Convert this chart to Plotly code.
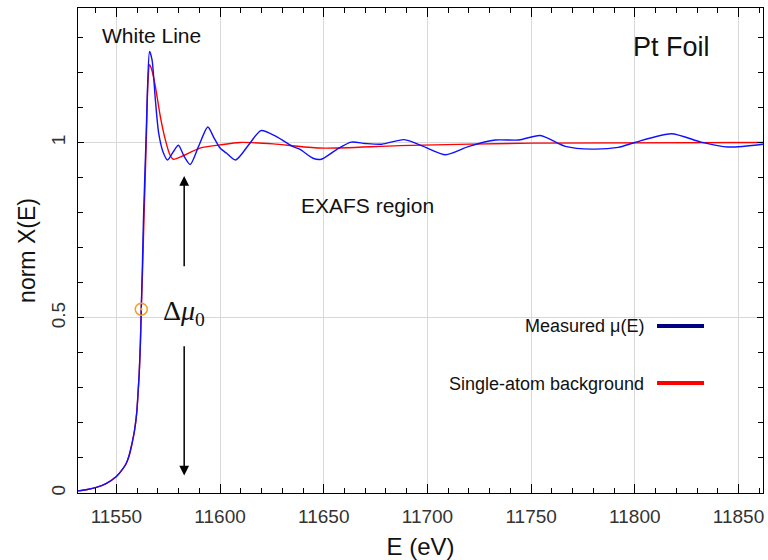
import plotly.graph_objects as go

# Measured mu(E) (normalized)
energy_measured = [11531.5, 11536, 11540.3, 11545, 11550, 11553, 11554.8, 11556.2, 11557.2,
                   11558.2, 11558.8, 11559.8, 11560.5, 11561.0, 11561.6, 11562.0, 11562.5,
                   11563.1, 11564.4, 11565.1, 11566.0, 11567.2, 11568.8, 11570.4, 11572.7,
                   11574.7, 11577.5, 11579.9, 11582.7, 11585.6, 11589.6, 11594.1, 11597,
                   11600, 11603.2, 11607.5, 11614.4, 11619.7, 11627.2, 11635.2, 11638.4,
                   11644.8, 11648.8, 11656, 11663.2, 11670, 11678, 11688.8, 11698, 11708.8,
                   11720, 11732.8, 11744, 11754.4, 11766.5, 11779.2, 11792, 11800, 11817.6,
                   11832, 11844.8, 11861.8]
norm_measured = [0.006, 0.010, 0.016, 0.027, 0.047, 0.068, 0.085, 0.108, 0.132,
                 0.160, 0.180, 0.228, 0.290, 0.340, 0.430, 0.525, 0.637,
                 0.789, 1.029, 1.170, 1.261, 1.237, 1.123, 1.028, 0.971,
                 0.951, 0.975, 0.993, 0.961, 0.938, 0.989, 1.045, 1.015,
                 0.985, 0.970, 0.951, 0.999, 1.035, 1.018, 0.989, 0.982,
                 0.956, 0.953, 0.980, 1.002, 0.998, 0.996, 1.009, 0.990, 0.966,
                 0.990, 1.008, 1.008, 1.021, 0.990, 0.982, 0.987, 1.001, 1.026,
                 1.002, 0.988, 0.996]

# Single-atom background
energy_background = [11531.5, 11536, 11540.3, 11545, 11550, 11553, 11554.8, 11556.2, 11557.2,
                     11558.2, 11558.8, 11559.8, 11560.5, 11561.0, 11561.6, 11562.0, 11562.6,
                     11563.3, 11564.4, 11565.2, 11566.0, 11567.0, 11568.8, 11571.2, 11573.6,
                     11575.8, 11577.5, 11581, 11590.4, 11600, 11609.6, 11625.6, 11648,
                     11686.4, 11750.2, 11861.8]
norm_background = [0.006, 0.010, 0.016, 0.027, 0.047, 0.068, 0.085, 0.108, 0.132,
                   0.160, 0.180, 0.228, 0.290, 0.340, 0.430, 0.525, 0.630,
                   0.780, 1.000, 1.170, 1.223, 1.210, 1.161, 1.075, 1.009,
                   0.966, 0.953, 0.960, 0.985, 0.994, 1.001, 0.997, 0.985,
                   0.992, 0.999, 1.001]

# Edge point (E0, half step)
edge_energy = [11562.0]
edge_norm = [0.525]

x_tick_vals = [11550, 11600, 11650, 11700, 11750, 11800, 11850]
y_tick_vals = [0, 0.5, 1]

X_RANGE = [11531.5, 11861.8]
Y_RANGE = [0, 1.385]

FONT = "Liberation Sans, Arial, sans-serif"

fig = go.Figure()
fig.add_trace(go.Scatter(x=energy_background, y=norm_background, mode="lines",
                         line=dict(color="#ff0000", width=1.4, shape="spline", smoothing=0.7),
                         name="Single-atom background", showlegend=False))
fig.add_trace(go.Scatter(x=energy_measured, y=norm_measured, mode="lines",
                         line=dict(color="#1010ff", width=1.4, shape="spline", smoothing=0.7),
                         name="Measured μ(E)", showlegend=False))
fig.add_trace(go.Scatter(x=edge_energy, y=edge_norm, mode="markers",
                         marker=dict(symbol="circle-open-dot", size=12, color="#f0a020",
                                     line=dict(width=1.5, color="#f0a020")),
                         showlegend=False))
# empty trace on the mirror axes so they get drawn
fig.add_trace(go.Scatter(x=[], y=[], xaxis="x2", yaxis="y2", showlegend=False, hoverinfo="skip"))

# legend drawn manually: text on left, line on right
PW, PH = 685, 485
fig.add_shape(type="line", xref="paper", yref="paper",
              x0=(657 - 78) / PW, x1=(704 - 78) / PW,
              y0=(493 - 326) / PH, y1=(493 - 326) / PH,
              line=dict(color="#000080", width=4))
fig.add_shape(type="line", xref="paper", yref="paper",
              x0=(657 - 78) / PW, x1=(704 - 78) / PW,
              y0=(493 - 383) / PH, y1=(493 - 383) / PH,
              line=dict(color="#ff0000", width=4))

annotations = [
    dict(text="Measured μ(E)", xref="paper", yref="paper", x=(646 - 78) / PW,
         y=(493 - 326) / PH, xanchor="right", yanchor="middle", showarrow=False,
         font=dict(family=FONT, size=18, color="#111")),
    dict(text="Single-atom background", xref="paper", yref="paper", x=(646 - 78) / PW,
         y=(493 - 384) / PH, xanchor="right", yanchor="middle", showarrow=False,
         font=dict(family=FONT, size=18, color="#111")),
    dict(text="White Line", xref="paper", yref="paper", x=(100 - 78) / PW,
         y=(493 - 35) / PH, xanchor="left", yanchor="middle", showarrow=False,
         font=dict(family=FONT, size=21, color="#111")),
    dict(text="Pt Foil", xref="paper", yref="paper", x=(631 - 78) / PW,
         y=(493 - 47) / PH, xanchor="left", yanchor="middle", showarrow=False,
         font=dict(family=FONT, size=27, color="#111")),
    dict(text="EXAFS region", xref="paper", yref="paper", x=(299 - 78) / PW,
         y=(493 - 205) / PH, xanchor="left", yanchor="middle", showarrow=False,
         font=dict(family=FONT, size=21, color="#111")),
    dict(text="Δ<i>μ</i><sub>0</sub>", xref="x", yref="y", x=11571.6, y=0.515,
         xanchor="left", yanchor="middle", showarrow=False,
         font=dict(family="Liberation Serif, Times New Roman, serif", size=28, color="#111")),
    # up arrow
    dict(x=11582.7, y=0.905, ax=11582.7, ay=0.643, xref="x", yref="y", axref="x", ayref="y",
         text="", showarrow=True, arrowhead=2, arrowsize=1.3, arrowwidth=1.5, arrowcolor="black"),
    # down arrow
    dict(x=11582.7, y=0.05, ax=11582.7, ay=0.423, xref="x", yref="y", axref="x", ayref="y",
         text="", showarrow=True, arrowhead=2, arrowsize=1.3, arrowwidth=1.5, arrowcolor="black"),
]

fig.update_layout(
    template="plotly_white",
    width=768, height=560,
    margin=dict(l=78, r=5, t=8, b=67, autoexpand=False),
    paper_bgcolor="white", plot_bgcolor="white",
    annotations=annotations,
    font=dict(family=FONT),
)

common_tick = dict(ticks="inside", tickwidth=1.2, tickcolor="black",
                   showline=True, linecolor="black", linewidth=1, zeroline=False)
x_minor = dict(dtick=10, ticks="inside", ticklen=5, tickcolor="black", tickwidth=1.2, showgrid=False)
y_minor = dict(dtick=0.1, ticks="inside", ticklen=5, tickcolor="black", tickwidth=1.2, showgrid=False)

fig.update_layout(
    xaxis=dict(
        range=X_RANGE, tickvals=x_tick_vals, tickformat="d", ticklen=9, minor=x_minor,
        showgrid=True, gridcolor="#d8d8d8", gridwidth=1, automargin=False,
        tickfont=dict(family=FONT, size=19, color="#333"), ticklabelstandoff=6,
        title=dict(text="E (eV)", font=dict(family=FONT, size=24, color="#111"), standoff=12),
        **common_tick),
    xaxis2=dict(
        range=X_RANGE, overlaying="x", side="top", anchor="y2", tickvals=x_tick_vals, ticklen=9,
        minor=x_minor, showticklabels=False, showgrid=False, automargin=False, **common_tick),
    yaxis=dict(
        range=Y_RANGE, tickvals=y_tick_vals, tickangle=-90, ticklen=6, minor=y_minor,
        showgrid=True, gridcolor="#d8d8d8", gridwidth=1, automargin=False,
        tickfont=dict(family=FONT, size=19, color="#333"), ticklabelstandoff=4,
        title=dict(text="norm X(E)", font=dict(family=FONT, size=23, color="#111"), standoff=6),
        **common_tick),
    yaxis2=dict(
        range=Y_RANGE, overlaying="y", side="right", anchor="x2", tickvals=y_tick_vals, ticklen=6,
        minor=y_minor, showticklabels=False, showgrid=False, automargin=False, **common_tick),
)

fig.write_html("out.html")
